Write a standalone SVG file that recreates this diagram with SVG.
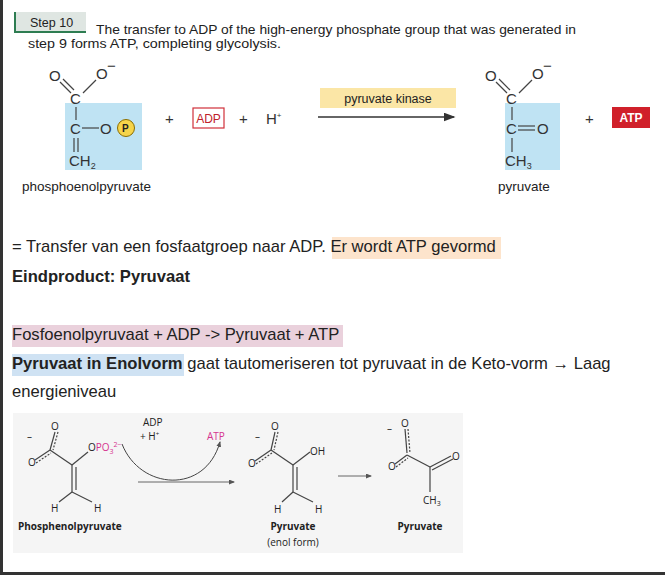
<svg xmlns="http://www.w3.org/2000/svg" width="665" height="575" viewBox="0 0 665 575">
<style>
.t{font-family:"Liberation Sans",Arial,sans-serif;fill:#222}
.c{font-family:"Liberation Sans",Arial,sans-serif;font-size:15px;fill:#333}
.b{stroke:#444;stroke-width:1.2;fill:none}
.d{stroke:#444;stroke-width:1.2;fill:none;stroke-dasharray:2 1.5}
.s{font-family:"Open Sans","Liberation Sans",sans-serif;font-size:10px;fill:#222}
</style>
<defs>
<marker id="ah" markerWidth="8" markerHeight="6" refX="7" refY="3" orient="auto"><path d="M0,0 L8,3 L0,6 z" fill="#333"/></marker>
<marker id="ah2" markerWidth="6" markerHeight="5" refX="5" refY="2.5" orient="auto"><path d="M0,0 L6,2.5 L0,5 z" fill="#555"/></marker>
</defs>
<rect width="665" height="575" fill="#fff"/>
<rect x="0" y="0" width="3" height="575" fill="#333"/>
<rect x="0" y="572" width="665" height="3" fill="#333"/>
<g id="header">
<rect x="14" y="12" width="72" height="19" fill="#dfe6e2"/>
<rect x="14" y="12" width="2" height="21" fill="#2e7d52"/>
<rect x="14" y="31" width="72" height="2" fill="#2e7d52"/>
<text class="t" x="30" y="27" font-size="12.5">Step 10</text>
<text class="t" x="96" y="34" font-size="13.6" textLength="480" lengthAdjust="spacingAndGlyphs">The transfer to ADP of the high-energy phosphate group that was generated in</text>
<text class="t" x="28" y="48" font-size="13.6" textLength="253" lengthAdjust="spacingAndGlyphs">step 9 forms  ATP, completing glycolysis.</text>
</g>
<g id="pep">
<rect x="65" y="103" width="77" height="67" fill="#bfe3f3"/>
<text class="c" x="49" y="81">O</text><text class="c" x="96" y="79">O</text><text class="c" x="107" y="71" font-size="10">−</text>
<line class="b" x1="60" y1="82" x2="71" y2="93"/><line class="b" x1="63" y1="79" x2="74" y2="90"/>
<line class="b" x1="96" y1="80" x2="83" y2="93"/>
<text class="c" x="70" y="104">C</text>
<line class="b" x1="76" y1="107" x2="76" y2="120"/>
<text class="c" x="70" y="134">C</text>
<line class="b" x1="82" y1="128" x2="99" y2="128"/>
<text class="c" x="100" y="134">O</text>
<circle cx="126" cy="128" r="8.5" fill="#f6d44a" stroke="#8a6d00"/>
<text class="t" x="122" y="132" font-size="10" font-weight="bold">P</text>
<line class="b" x1="74" y1="138" x2="74" y2="152"/><line class="b" x1="78" y1="138" x2="78" y2="152"/>
<text class="c" x="69" y="166">CH<tspan font-size="9" dy="3">2</tspan></text>
<text class="t" x="22" y="191" font-size="13.5">phosphoenolpyruvate</text>
</g>
<g id="reagents">
<text class="c" x="165" y="124" font-size="17">+</text>
<rect x="193" y="108" width="31" height="20" fill="#fff" stroke="#d0303a" stroke-width="1.2"/>
<text class="t" x="208.5" y="123" font-size="12" text-anchor="middle" style="fill:#c0202a">ADP</text>
<text class="c" x="239" y="124" font-size="17">+</text>
<text class="c" x="266" y="124" font-size="13">H<tspan font-size="8" dy="-6">+</tspan></text>
</g>
<g id="enzyme">
<rect x="320" y="88" width="136" height="20" fill="#fbe6a6"/>
<text class="t" x="388" y="103" font-size="12.5" text-anchor="middle">pyruvate kinase</text>
</g>
<g id="pyr">
<rect x="505" y="103" width="55" height="67" fill="#bfe3f3"/>
<text class="c" x="485" y="81">O</text><text class="c" x="532" y="79">O</text><text class="c" x="543" y="71" font-size="10">−</text>
<line class="b" x1="496" y1="82" x2="507" y2="93"/><line class="b" x1="499" y1="79" x2="510" y2="90"/>
<line class="b" x1="532" y1="80" x2="519" y2="93"/>
<text class="c" x="506" y="104">C</text>
<line class="b" x1="512" y1="107" x2="512" y2="120"/>
<text class="c" x="506" y="134">C</text>
<line class="b" x1="518" y1="126" x2="535" y2="126"/><line class="b" x1="518" y1="130" x2="535" y2="130"/>
<text class="c" x="537" y="134">O</text>
<line class="b" x1="512" y1="138" x2="512" y2="152"/>
<text class="c" x="505" y="166">CH<tspan font-size="9" dy="3">3</tspan></text>
<text class="t" x="498" y="191" font-size="13.5">pyruvate</text>
</g>
<g id="atp">
<text class="c" x="585" y="124" font-size="17">+</text>
<rect x="612" y="107" width="38" height="21" fill="#d0202a"/>
<text class="t" x="631" y="122" font-size="12" font-weight="bold" text-anchor="middle" style="fill:#fff">ATP</text>
</g>
<rect x="332" y="237" width="169" height="22" fill="#fde4cc"/>
<rect x="12" y="325" width="331" height="22" fill="#ead1dc"/>
<rect x="12" y="354" width="172" height="22" fill="#cfe2f3"/>
<g id="text">
<text class="t" x="12" y="252" font-size="16.6">= Transfer van een fosfaatgroep naar ADP. Er wordt ATP gevormd</text>
<text class="t" x="12" y="282" font-size="16.6" font-weight="bold">Eindproduct: Pyruvaat</text>
<text class="t" x="12" y="340" font-size="16.6">Fosfoenolpyruvaat + ADP -&gt; Pyruvaat + ATP</text>
<text class="t" x="12" y="369" font-size="16.6"><tspan font-weight="bold">Pyruvaat in Enolvorm</tspan> gaat tautomeriseren tot pyruvaat in de Keto-vorm → Laag</text>
<text class="t" x="12" y="397" font-size="16.6">energieniveau</text>
</g>
<rect x="13" y="413" width="450" height="140" fill="#f5f5f5"/>
<g id="connectors">
<line x1="318" y1="117" x2="454" y2="117" stroke="#333" stroke-width="1.5" marker-end="url(#ah)"/>
<path d="M122,444 C140,490 205,495 220,442" fill="none" stroke="#444" stroke-width="1" marker-end="url(#ah2)"/>
<line x1="138" y1="482" x2="234" y2="482" stroke="#666" stroke-width="1" marker-end="url(#ah2)"/>
<line x1="338" y1="476" x2="371" y2="476" stroke="#666" stroke-width="1" marker-end="url(#ah2)"/>
</g>
<g id="pep2">
<text class="s" x="27" y="440">–</text>
<text class="s" x="51" y="430">O</text><text class="s" x="28" y="466">O</text>
<line class="b" x1="55" y1="432" x2="50" y2="450"/><line class="d" x1="58" y1="432" x2="53" y2="450"/>
<line class="b" x1="35" y1="460" x2="50" y2="450"/><line class="d" x1="36" y1="463" x2="51" y2="453"/>
<line class="b" x1="50" y1="450" x2="72" y2="465"/>
<line class="b" x1="72" y1="465" x2="88" y2="452"/>
<text class="s" x="88" y="451">O<tspan style="fill:#d6338f">PO<tspan font-size="7" dy="3">3</tspan><tspan font-size="7" dy="-7">2−</tspan></tspan></text>
<line class="b" x1="72" y1="465" x2="72" y2="492"/><line class="b" x1="76" y1="467" x2="76" y2="490"/>
<line class="b" x1="72" y1="492" x2="59" y2="502"/><line class="b" x1="72" y1="492" x2="92" y2="502"/>
<text class="s" x="51" y="512">H</text><text class="s" x="94" y="512">H</text>
<text class="s" x="18" y="530" font-weight="bold" font-size="11">Phosphenolpyruvate</text>
</g>
<g id="cofactors">
<text class="s" x="143" y="426" font-size="9">ADP</text>
<text class="s" x="140" y="440" font-size="9">+ H<tspan font-size="6" dy="-4">+</tspan></text>
<text class="s" x="207" y="440" font-size="9" style="fill:#d6338f">ATP</text>
</g>
<g id="enol">
<text class="s" x="255" y="440">–</text>
<text class="s" x="271" y="430">O</text><text class="s" x="248" y="467">O</text>
<line class="b" x1="275" y1="432" x2="271" y2="450"/><line class="d" x1="278" y1="432" x2="274" y2="450"/>
<line class="b" x1="255" y1="461" x2="271" y2="450"/><line class="d" x1="256" y1="464" x2="272" y2="453"/>
<line class="b" x1="271" y1="450" x2="293" y2="465"/>
<line class="b" x1="293" y1="465" x2="310" y2="452"/>
<text class="s" x="310" y="455">OH</text>
<line class="b" x1="293" y1="465" x2="293" y2="492"/><line class="b" x1="297" y1="467" x2="297" y2="490"/>
<line class="b" x1="293" y1="492" x2="282" y2="502"/><line class="b" x1="293" y1="492" x2="313" y2="502"/>
<text class="s" x="274" y="513">H</text><text class="s" x="315" y="513">H</text>
<text class="s" x="293" y="530" font-weight="bold" font-size="11" text-anchor="middle">Pyruvate</text>
<text class="s" x="293" y="546" font-size="11" text-anchor="middle">(enol form)</text>
</g>
<g id="keto">
<text class="s" x="387" y="432">–</text>
<text class="s" x="401" y="427">O</text><text class="s" x="388" y="470">O</text>
<line class="b" x1="405" y1="429" x2="407" y2="453"/><line class="d" x1="408" y1="429" x2="410" y2="453"/>
<line class="b" x1="395" y1="464" x2="407" y2="455"/><line class="d" x1="396" y1="467" x2="408" y2="458"/>
<line class="b" x1="407" y1="455" x2="430" y2="467"/>
<line class="b" x1="430" y1="467" x2="451" y2="456"/><line class="b" x1="432" y1="470" x2="453" y2="459"/>
<text class="s" x="452" y="460">O</text>
<line class="b" x1="430" y1="467" x2="430" y2="492"/>
<text class="s" x="423" y="504">CH<tspan font-size="7" dy="2">3</tspan></text>
<text class="s" x="420" y="530" font-weight="bold" font-size="11" text-anchor="middle">Pyruvate</text>
</g>
</svg>
